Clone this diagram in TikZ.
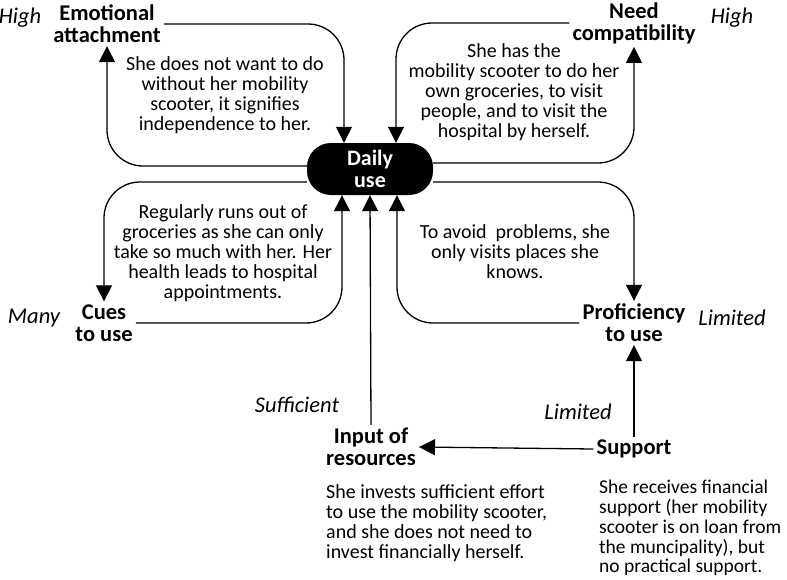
\documentclass[tikz,border=0pt]{standalone}
\usepackage{fontspec}
\setmainfont{Carlito}
\usetikzlibrary{arrows.meta,calc}
\begin{document}
\begin{tikzpicture}[x=1pt,y=-1pt,
  lw/.style={line width=1.3pt},
  arr/.style={lw,-{Triangle[width=16pt,length=16pt]},rounded corners=36pt},
  lbl/.style={font=\fontsize{22.5}{22}\selectfont\bfseries,align=center,inner sep=3pt},
  desc/.style={font=\fontsize{20}{20}\selectfont,align=center,inner sep=0pt},
  descl/.style={font=\fontsize{20}{20}\selectfont,align=left,inner sep=0pt},
  lev/.style={font=\fontsize{22.5}{20}\selectfont\itshape,inner sep=0pt},
  core/.style={fill=black,text=white,rounded corners=24pt,minimum width=126pt,minimum height=52pt,font=\fontsize{22}{22}\selectfont\bfseries,align=center,inner sep=0pt}]
\useasboundingbox (0,0) rectangle (787,579);
% nodes
\node[core] (daily) at (370,169) {Daily\\use};
\node[lbl] (ea) at (107,24) {Emotional\\attachment};
\node[lbl] (need) at (634,23) {Need\\compatibility};
\node[lbl] (cues) at (104,323) {Cues\\to use};
\node[lbl] (prof) at (634,323) {Proficiency\\to use};
\node[lbl] (input) at (371,447) {Input of\\resources};
\node[lbl] (support) at (634,449) {Support};
% levels
\node[lev] (l1) at (20,18) {High};
\node[lev] (l2) at (732,18) {High};
\node[lev] (l3) at (34,318) {Many};
\node[lev] (l4) at (732,318) {Limited};
\node[lev] (l5) at (297,405) {Sufficient};
\node[lev] (l6) at (578,412) {Limited};
% descriptions
\node[desc] (d1) at (225,95) {She does not want to do\\without her mobility\\scooter, it signifies\\independence to her.};
\node[desc] (d2) at (514,92) {She has the\\mobility scooter to do her\\own groceries, to visit\\people, and to visit the\\hospital by herself.};
\node[desc] (d3) at (223,253) {Regularly runs out of\\groceries as she can only\\take so much with her. Her\\health leads to hospital\\appointments.};
\node[desc] (d4) at (515,252) {To avoid~ problems, she\\only visits places she\\knows.};
\node[descl,anchor=west] (d5) at (326,523) {She invests sufficient effort\\to use the mobility scooter,\\and she does not need to\\invest financially herself.};
\node[descl,anchor=west,font=\fontsize{19.5}{19.8}\selectfont] (d6) at (599,528) {She receives financial\\support (her mobility\\scooter is on loan from\\the muncipality), but\\no practical support.};
% connectors
\draw[arr] (ea.east) -| ($(daily.north)+(-26,0)$);
\draw[arr] ($(daily.west)+(0,-3)$) -| (ea.south);
\draw[arr] (need.west) -| ($(daily.north)+(26,0)$);
\draw[arr] ($(daily.east)+(0,-6)$) -| (need.south);
\draw[arr] ($(daily.west)+(0,13)$) -| (cues.north);
\draw[arr] (cues.east) -| ($(daily.south)+(-28,0)$);
\draw[arr] ($(daily.east)+(0,13)$) -| (prof.north);
\draw[arr] (prof.west) -| ($(daily.south)+(27,0)$);
\draw[arr] (input.north) -- (daily.south);
\draw[arr] (support.west) -- (input.east);
\draw[arr] (support.north) -- (prof.south);
\end{tikzpicture}
\end{document}
